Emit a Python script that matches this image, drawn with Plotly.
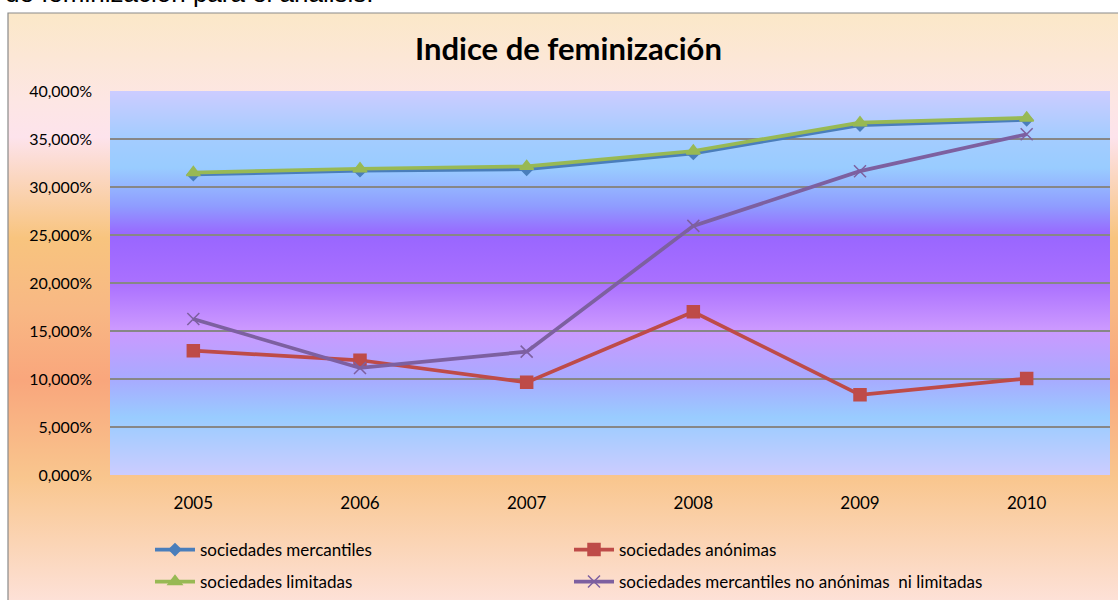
import base64
import plotly.graph_objects as go

# ---------------- data ----------------
years = ["2005", "2006", "2007", "2008", "2009", "2010"]
mercantiles = [0.3130, 0.3170, 0.3185, 0.3350, 0.3645, 0.3700]
anonimas = [0.1295, 0.1195, 0.0965, 0.1700, 0.0835, 0.1005]
limitadas = [0.3150, 0.3190, 0.3215, 0.3375, 0.3670, 0.3720]
no_anonimas_ni_limitadas = [0.1625, 0.1115, 0.1285, 0.2595, 0.3165, 0.3550]
y_ticks = [0, 0.05, 0.10, 0.15, 0.20, 0.25, 0.30, 0.35, 0.40]

title_text = "Indice de feminización"
top_text = "de feminización para el análisis."

FONT = "Lato"


def grad_uri(stops):
    st = "".join(
        f'<stop offset="{o}" stop-color="{c}"/>' for o, c in stops
    )
    svg = (
        '<svg xmlns="http://www.w3.org/2000/svg" width="100" height="100" '
        'preserveAspectRatio="none">'
        '<defs><linearGradient id="g" x1="0" y1="0" x2="0" y2="1">'
        f"{st}</linearGradient></defs>"
        '<rect x="0" y="0" width="100" height="100" fill="url(#g)"/></svg>'
    )
    return "data:image/svg+xml;base64," + base64.b64encode(svg.encode()).decode()


chart_bg = grad_uri([
    (0.0, "#FBE8C8"), (0.15, "#FDE6E4"), (0.21, "#FDE3EC"),
    (0.38, "#F8C47E"), (0.50, "#F8B884"), (0.62, "#F9A67C"),
    (0.785, "#F9C68E"), (1.0, "#FDE2DA"),
])
plot_bg = grad_uri([
    (0.0, "#CCCCFF"), (0.12, "#A4CCFF"), (0.20, "#99CCFF"),
    (0.30, "#8F9CFF"), (0.375, "#9966FF"), (0.50, "#AA70FF"),
    (0.62, "#CC99FF"), (0.75, "#A8AAFF"), (0.85, "#99CCFF"),
    (1.0, "#CCCCFF"),
])

W, H = 1118, 600
L, R, T, B = 110, 8, 91, 125
PW, PH = W - L - R, H - T - B


def px_x(p):
    return (p - L) / PW


def px_y(p):
    return (H - B - p) / PH


fig = go.Figure()

series = [
    ("sociedades mercantiles", mercantiles, "#4A7EBB", "diamond", 9, "legend"),
    ("sociedades anónimas", anonimas, "#BE4B48", "square", 12, "legend"),
    ("sociedades limitadas", limitadas, "#98B954", "triangle-up", 12, "legend2"),
    ("sociedades mercantiles no anónimas  ni limitadas",
     no_anonimas_ni_limitadas, "#7D60A0", "x-thin", 12, "legend2"),
]

for name, vals, col, sym, sz, lg in series:
    fig.add_trace(go.Scatter(
        x=years, y=vals, name=name, mode="lines+markers",
        line=dict(color=col, width=3.7),
        marker=dict(symbol=sym, size=sz, color=col,
                    line=dict(color=col, width=1.5)),
        legend=lg,
    ))

legend_common = dict(orientation="h", xanchor="left", yanchor="top",
                     entrywidth=364, entrywidthmode="pixels",
                     itemwidth=40, bgcolor="rgba(0,0,0,0)",
                     font=dict(family=FONT, size=17))

fig.update_layout(
    width=W, height=H,
    margin=dict(l=L, r=R, t=T, b=B, pad=0, autoexpand=False),
    paper_bgcolor="white",
    plot_bgcolor="rgba(0,0,0,0)",
    separators=",.",
    font=dict(family=FONT, size=16, color="black"),
    showlegend=True,
    legend=dict(x=px_x(150), y=px_y(532), **legend_common),
    legend2=dict(x=px_x(150), y=px_y(564), **legend_common),
    xaxis=dict(type="category", range=[-0.5, 5.5], showgrid=False,
               showline=False, zeroline=False, ticks="", automargin=False,
               ticklabelstandoff=16, tickfont=dict(family=FONT, size=17)),
    yaxis=dict(range=[0, 0.4], tickvals=y_ticks, tickformat=".3%",
               showgrid=True, gridcolor="#878787", gridwidth=1.5,
               zeroline=False, showline=False, ticks="", automargin=False,
               ticklabelstandoff=17, tickfont=dict(family=FONT, size=16)),
    images=[
        dict(source=chart_bg, xref="paper", yref="paper",
             x=px_x(8), y=px_y(13), sizex=px_x(1125) - px_x(8),
             sizey=px_y(13) - px_y(605), sizing="stretch",
             xanchor="left", yanchor="top", layer="below"),
        dict(source=plot_bg, xref="paper", yref="paper",
             x=0, y=1, sizex=1, sizey=1, sizing="stretch",
             xanchor="left", yanchor="top", layer="below"),
    ],
    shapes=[
        dict(type="rect", xref="paper", yref="paper",
             x0=px_x(8), x1=px_x(1130), y0=px_y(13), y1=px_y(610),
             line=dict(color="#8A8A8A", width=1.2), layer="above"),
    ],
    annotations=[
        dict(text=f"<b>{title_text}</b>", xref="paper", yref="paper",
             x=px_x(568), y=px_y(48), xanchor="center", yanchor="middle",
             showarrow=False, font=dict(family=FONT, size=31, color="black")),
        dict(text=top_text, xref="paper", yref="paper",
             x=px_x(4), y=px_y(10), xanchor="left", yanchor="bottom",
             xshift=-1, showarrow=False,
             font=dict(family="Liberation Sans", size=26, color="black")),
    ],
)

fig.write_html(
    "out.html",
    config={"displayModeBar": False},
    post_script="document.body.style.margin='0';document.body.style.overflow='hidden';",
)
